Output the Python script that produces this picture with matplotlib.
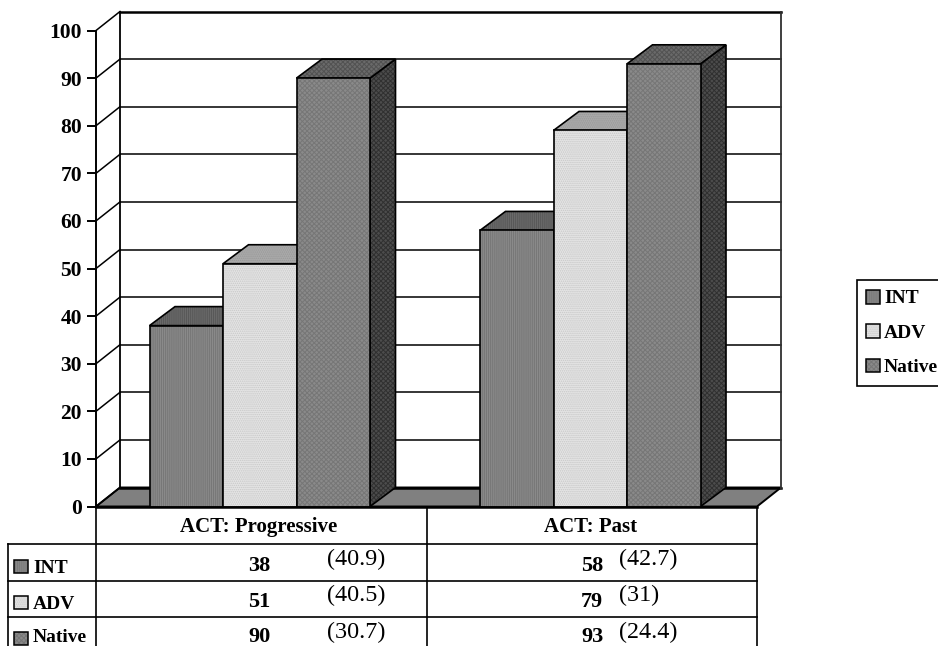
import matplotlib
matplotlib.use("Agg")
import matplotlib.pyplot as plt
from matplotlib.patches import Polygon, Rectangle
from matplotlib.legend_handler import HandlerTuple

plt.rcParams['font.family'] = ['Liberation Serif', 'DejaVu Serif']
plt.rcParams['hatch.linewidth'] = 0.7

categories = ['ACT: Progressive', 'ACT: Past']
series_names = ['INT', 'ADV', 'Native']
int_values = [38, 58]
adv_values = [51, 79]
native_values = [90, 93]
int_sd = ['(40.9)', '(42.7)']
adv_sd = ['(40.5)', '(31)']
native_sd = ['(30.7)', '(24.4)']
y_ticks = list(range(0, 101, 10))

W, H = 938, 646
fig = plt.figure(figsize=(W / 100, H / 100), dpi=100, facecolor='white')

# front plane of the 3D box
L, R, B, T = 96.0, 757.0, 506.5, 30.5
ax = fig.add_axes([L / W, 1 - B / H, (R - L) / W, (B - T) / H])
ax.set_xlim(-0.5, 1.5)
ax.set_ylim(0, 100)
ax.patch.set_visible(False)
for s in ('top', 'right', 'bottom'):
    ax.spines[s].set_visible(False)
ax.spines['left'].set_linewidth(1.4)
ax.set_xticks([])
ax.set_yticks(y_ticks)
ax.tick_params(axis='y', length=6.5, width=1.4, pad=3.5)
for t in ax.get_yticklabels():
    t.set_fontsize(15.5)
    t.set_fontweight('bold')

px = (R - L) / 2
dx = 24.0 / px
bar_dx = 25.5 / px
dy = 19.0 / ((B - T) / 100)

# floor and walls
ax.add_patch(Polygon([(-0.5, 0), (-0.5 + dx, dy), (1.5 + dx, dy), (1.5, 0)], closed=True,
                     fc='#808080', ec='black', lw=1.4, clip_on=False, zorder=1))
for v in y_ticks:
    lw = 1.8 if v in (0, 100) else 1.1
    ax.plot([-0.5, -0.5 + dx], [v, v + dy], color='black', lw=1.1, clip_on=False, zorder=1.5)
    ax.plot([-0.5 + dx, 1.5 + dx], [v + dy, v + dy], color='black', lw=lw, clip_on=False, zorder=1.5)
ax.plot([-0.5 + dx, -0.5 + dx], [dy, 100 + dy], color='black', lw=1.3, clip_on=False, zorder=1.5)
ax.plot([1.5 + dx, 1.5 + dx], [dy, 100 + dy], color='#303030', lw=1.3, clip_on=False, zorder=1.5)
ax.plot([-0.5, 1.5], [0, 0], color='black', lw=1.8, clip_on=False, zorder=6)

styles = [
    dict(front='#8a8a8a', hatch='||||||||', hc='#767676',
         top='#6a6a6a', top_hc='#585858', side='#4a4a4a', side_hc='#3a3a3a'),
    dict(front='#e4e4e4', hatch='........', hc='#c8c8c8',
         top='#aaaaaa', top_hc='#989898', side='#707070', side_hc='#606060'),
    dict(front='#8a8a8a', hatch='xxxxxxx', hc='#767676',
         top='#6a6a6a', top_hc='#525252', side='#4c4c4c', side_hc='#303030'),
]


def textured(points, fc, hc, hatch, z):
    ax.add_patch(Polygon(points, closed=True, fc=fc, ec='none', clip_on=False, zorder=z))
    ax.add_patch(Polygon(points, closed=True, fc='none', ec=hc, hatch=hatch, lw=0, clip_on=False, zorder=z))
    ax.add_patch(Polygon(points, closed=True, fc='none', ec='black', lw=1.2, clip_on=False, zorder=z))


bw = 73.5 / px
shift = -1.5 / px
z = 2.0
for i, vals in enumerate([int_values, adv_values, native_values]):
    st = styles[i]
    for j, v in enumerate(vals):
        x0 = j + shift + (i - 1.5) * bw
        x1 = x0 + bw
        textured([(x1, 0), (x1 + bar_dx, dy), (x1 + bar_dx, v + dy), (x1, v)],
                 st['side'], st['side_hc'], st['hatch'], z)
        textured([(x0, v), (x0 + bar_dx, v + dy), (x1 + bar_dx, v + dy), (x1, v)],
                 st['top'], st['top_hc'], st['hatch'], z)
        ax.bar(x0 + bw / 2, v, bw, color=st['front'], lw=0, zorder=z + 0.1, clip_on=False)
        ax.bar(x0 + bw / 2, v, bw, color='none', edgecolor=st['hc'], hatch=st['hatch'], lw=0,
               zorder=z + 0.2, clip_on=False)
        ax.bar(x0 + bw / 2, v, bw, color='none', edgecolor='black', lw=1.2,
               zorder=z + 0.3, clip_on=False)
    z += 1

# data table, laid out in pixel coordinates of the figure
tb = fig.add_axes([0, 0, 1, 1])
tb.set_xlim(0, W)
tb.set_ylim(H, 0)
tb.axis('off')
tb.patch.set_visible(False)
row_y = [543.5, 581.0, 616.5]
col_x = [L, 427.0, R]
for y in row_y:
    tb.plot([8, R], [y, y], color='black', lw=1.2)
tb.plot([L, L], [B, H], color='black', lw=1.2)
tb.plot([8, 8], [row_y[0], H], color='black', lw=1.2)
for x in col_x[1:]:
    tb.plot([x, x], [B, H], color='black', lw=1.2)

for cat, cx in zip(categories, [259, 591]):
    tb.text(cx, 532, cat, ha='center', va='baseline', fontsize=15, fontweight='bold', color='black')

num_x = [259.5, 592]
sd_x = [327, 619]
num_y = [571, 607, 642]
sd_y = [565, 601, 638]
label_y = [573, 609, 642]
swatch_top = [560, 596, 632]
for r, (vals, sds) in enumerate(zip([int_values, adv_values, native_values],
                                    [int_sd, adv_sd, native_sd])):
    st = styles[r]
    tb.add_patch(Rectangle((14, swatch_top[r]), 14, 13, fc=st['front'], ec='none'))
    tb.add_patch(Rectangle((14, swatch_top[r]), 14, 13, fc='none', ec=st['hc'], hatch=st['hatch'], lw=0))
    tb.add_patch(Rectangle((14, swatch_top[r]), 14, 13, fc='none', ec='black', lw=1.1))
    tb.text(33, label_y[r], series_names[r], ha='left', va='baseline', fontsize=14, fontweight='bold', color='black')
    for c in range(2):
        tb.text(num_x[c], num_y[r], str(vals[c]), ha='center', va='baseline', fontsize=16,
                fontweight='bold', color='black')
        tb.text(sd_x[c], sd_y[r], sds[c], ha='left', va='baseline', fontsize=17.4, color='black')

# legend
handles = [(Rectangle((0, 0), 1, 1, fc=st['front'], ec='none'),
            Rectangle((0, 0), 1, 1, fc='none', ec=st['hc'], hatch=st['hatch'], lw=0),
            Rectangle((0, 0), 1, 1, fc='none', ec='black', lw=1.1)) for st in styles]
leg = fig.legend(handles, series_names, loc='upper left', bbox_to_anchor=(856.5 / W, 1 - 280 / H),
                 borderaxespad=0, fancybox=False, edgecolor='black', framealpha=1,
                 prop={'weight': 'bold', 'size': 14}, handlelength=0.72, handleheight=0.72,
                 handletextpad=0.2, borderpad=0.5, labelspacing=0.86,
                 handler_map={tuple: HandlerTuple(ndivide=1, pad=0)})
leg.get_frame().set_linewidth(1.2)

fig.savefig('out.png', dpi=100, facecolor='white')
